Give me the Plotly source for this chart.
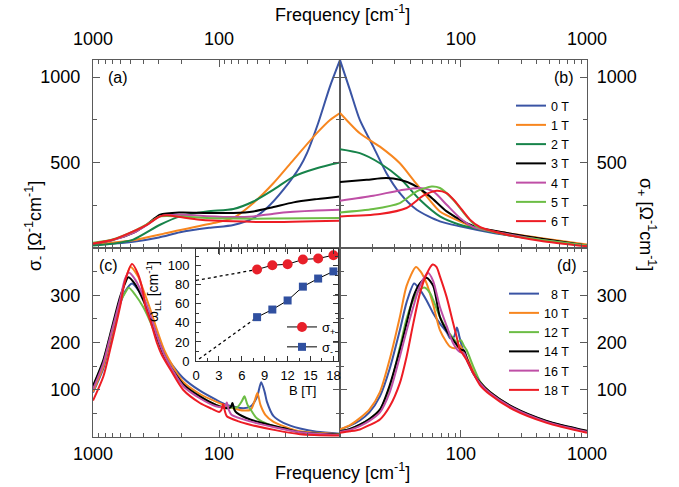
import math
import plotly.graph_objects as go

# ---------------------------------------------------------------- data
# Frequency window shared by every panel (cm^-1)
F_LOW = 11.0
F_HIGH = 1000.0

fields_top = ["0 T", "1 T", "2 T", "3 T", "4 T", "5 T", "6 T"]
colors_top = ["#3a54a4", "#f7861f", "#17834a", "#000000", "#bf4fa6", "#6cbd45", "#ed1c24"]

fields_bottom = ["\u20078 T", "10 T", "12 T", "14 T", "16 T", "18 T"]
colors_bottom = ["#3a54a4", "#f7861f", "#6cbd45", "#000000", "#bf4fa6", "#ed1c24"]

# (a) sigma_minus, low fields: (frequency cm^-1, sigma Ohm^-1 cm^-1)
sm_0T = [(1000, 20), (700, 26), (480, 37), (300, 62), (204, 92), (120, 118), (77, 135),
         (53.5, 175), (41.8, 234), (30.9, 341), (22.8, 477), (20.1, 555), (16.4, 730),
         (13.2, 946), (11, 1100)]
sm_1T = [(1000, 20), (480, 45), (259, 88), (111, 146), (77, 176), (53.5, 263), (37, 380),
         (25.7, 516), (16.8, 672), (13.2, 749), (11, 790)]
sm_2T = [(1000, 14), (700, 25), (480, 49), (294, 136), (204, 185), (125, 214), (77, 228),
         (53.5, 272), (37, 341), (25.7, 418), (16.8, 467), (11, 500)]
sm_3T = [(1000, 26), (700, 47), (480, 88), (375, 136), (294, 195), (204, 208), (125, 205),
         (77, 205), (53.5, 214), (37, 240), (25.7, 267), (16.8, 286), (11, 302)]
sm_4T = [(1000, 26), (700, 46), (480, 88), (375, 134), (294, 185), (204, 195), (125, 186),
         (77, 181), (53.5, 185), (37, 201), (25.7, 212), (16.8, 220), (11, 224)]
sm_5T = [(1000, 30), (700, 50), (480, 97), (375, 138), (294, 185), (204, 185), (125, 176),
         (77, 172), (37, 172), (11, 176)]
sm_6T = [(1000, 26), (700, 48), (480, 97), (375, 136), (294, 185), (259, 191), (204, 181),
         (142, 166), (77, 156), (41.8, 152), (11, 160)]

# (b) sigma_plus, low fields
sp_0T = [(11, 1100), (13.2, 924), (15.8, 749), (20.2, 593), (25.7, 438), (32.8, 321),
         (44.6, 224), (68.2, 156), (98.2, 127), (180.6, 88), (424, 49), (1000, 14)]
sp_1T = [(11, 790), (15.8, 671), (22.8, 593), (32.8, 496), (41.9, 399), (53.5, 302),
         (68.2, 214), (98.2, 156), (125.4, 123), (230.6, 88), (424, 59), (1000, 20)]
sp_2T = [(11, 578), (15.8, 555), (22.8, 496), (32.8, 409), (47.3, 282), (68.2, 185),
         (98.2, 136), (125.4, 117), (230.6, 78), (424, 49), (1000, 14)]
sp_3T = [(11, 386), (17.9, 399), (25.7, 409), (32.8, 399), (41.9, 370), (56.8, 302),
         (77.1, 214), (111, 146), (141.6, 117), (230.6, 88), (424, 55), (1000, 14)]
sp_4T = [(11, 277), (20.2, 306), (32.8, 337), (47.3, 351), (60.3, 331), (77.1, 253),
         (98.2, 176), (125.4, 123), (230.6, 82), (424, 49), (1000, 14)]
sp_5T = [(11, 208), (20.2, 228), (32.8, 263), (44.6, 331), (58.6, 360), (68.2, 351),
         (87, 282), (111, 185), (133, 127), (230.6, 78), (424, 49), (1000, 14)]
sp_6T = [(11, 185), (22.8, 199), (37.1, 234), (50.3, 306), (64.1, 335), (77.1, 321),
         (92.5, 263), (118, 166), (141.6, 123), (230.6, 78), (424, 43), (1000, 10)]

# (c) sigma_minus, high fields
sm_8T = [(1000, 94), (828, 145), (733, 198), (611, 280), (557, 308), (490, 325), (424, 306),
         (400, 296), (353, 258), (312, 218), (268, 174), (193, 125), (142, 98), (106, 79),
         (87, 68), (64, 61), (56, 65), (50, 85), (46.4, 116), (43.5, 95), (41.8, 75), (37, 44),
         (30.9, 30), (22.8, 18), (16.8, 11), (11, 7)]
sm_10T = [(1000, 96), (828, 150), (733, 205), (611, 290), (557, 330), (505, 360), (440, 340),
          (400, 312), (353, 272), (312, 228), (268, 180), (193, 117), (142, 91), (106, 75),
          (77, 61), (64, 56), (56, 58), (52.5, 75), (49.7, 93), (47, 68), (43, 47), (37, 32),
          (30.9, 23), (22.8, 12), (11, 6)]
sm_12T = [(1000, 106), (828, 160), (733, 212), (611, 285), (557, 305), (520, 316), (460, 300),
          (400, 275), (353, 245), (312, 210), (268, 168), (193, 110), (142, 86), (106, 68),
          (87, 63), (72, 63), (66, 76), (63, 86), (59.5, 68), (55, 54), (50.5, 40), (40, 26),
          (22.8, 10), (11, 5)]
sm_14T = [(1000, 108), (828, 163), (733, 216), (611, 296), (557, 325), (525, 338), (460, 322),
          (400, 290), (353, 255), (312, 212), (268, 168), (193, 112), (142, 86), (106, 68),
          (87, 61), (81, 63), (78.4, 72), (75.5, 57), (72.4, 51), (56.7, 37), (30.9, 19),
          (22.8, 10), (11, 5)]
sm_16T = [(1000, 101), (828, 156), (733, 210), (611, 290), (557, 335), (520, 348), (460, 332),
          (400, 298), (353, 260), (312, 215), (268, 170), (193, 108), (142, 82), (106, 65),
          (93, 63), (89, 66), (86.9, 73), (84, 58), (79.8, 47), (56.7, 33), (22.8, 10), (11, 4)]
sm_18T = [(1000, 77), (828, 128), (733, 184), (611, 275), (557, 330), (490, 366), (440, 345),
          (400, 305), (387, 279), (350, 245), (312, 200), (285, 174), (240, 140), (193, 100),
          (142, 72), (115, 60), (100, 53), (96, 57), (93, 70), (90, 55), (86.9, 44), (70, 33),
          (56.7, 26), (35, 14), (22.8, 6), (11, 3)]

# (d) sigma_plus, high fields
sp_8T = [(11, 16), (13.2, 24), (15.8, 35), (18.8, 52), (22.8, 86), (27.3, 145), (32.8, 226),
         (37.1, 285), (42.6, 325), (47.3, 312), (53.5, 289), (60.3, 262), (68.2, 240),
         (77.1, 222), (82, 209), (88, 212), (93, 232), (97, 214), (104, 184), (125.4, 135),
         (141.6, 114), (170, 93), (260, 61), (479, 33), (1000, 12)]
sp_10T = [(11, 16), (13.2, 25), (15.8, 40), (18.8, 58), (22.8, 95), (27.3, 165), (32.8, 254),
          (37.1, 320), (44, 360), (48, 350), (53.5, 325), (60.3, 280), (68.2, 226), (77.1, 200),
          (82, 191), (90, 188), (98, 194), (104, 182), (111, 170), (125.4, 140), (141.6, 116),
          (170, 95), (260, 62), (479, 33), (1000, 12)]
sp_12T = [(11, 12), (13.2, 17), (15.8, 26), (18.8, 38), (22.8, 58), (27.3, 105), (32.8, 190),
          (37.1, 250), (41.9, 290), (47.3, 312), (51.9, 316), (56.8, 305), (60.3, 290),
          (68.2, 254), (77.1, 228), (87, 209), (93, 200), (100, 205), (106, 192), (111, 184),
          (125.4, 149), (141.6, 118), (170, 95), (260, 62), (479, 33), (1000, 12)]
sp_14T = [(11, 12), (13.2, 17), (15.8, 26), (18.8, 38), (22.8, 58), (27.3, 110), (32.8, 184),
          (37.1, 240), (41.9, 296), (47.3, 325), (53.5, 337), (60.3, 320), (68.2, 254),
          (77.1, 225), (87, 205), (100, 185), (106, 183), (112, 165), (125.4, 135),
          (141.6, 116), (170, 95), (260, 63), (479, 34), (1000, 13)]
sp_16T = [(11, 11), (13.2, 15), (15.8, 23), (18.8, 34), (22.8, 52), (27.3, 95), (32.8, 170),
          (37.1, 225), (41.9, 275), (47.3, 320), (55, 347), (60.3, 330), (68.2, 275),
          (77.1, 235), (87, 198), (98, 180), (106, 178), (111, 165), (125.4, 135),
          (141.6, 114), (170, 93), (260, 61), (479, 32), (1000, 11)]
sp_18T = [(11, 9), (13.2, 12), (15.8, 16), (18.8, 25), (22.8, 37), (27.3, 65), (32.8, 114),
          (37.1, 170), (41.9, 240), (47.3, 304), (53.5, 345), (59.7, 365), (64, 360),
          (68.2, 340), (77.1, 296), (87, 240), (92.5, 212), (98.2, 184), (104, 175), (111, 163),
          (125.4, 135), (141.6, 110), (170, 90), (260, 58), (479, 30), (1000, 9)]

# inset: Landau-level transition energies versus field
B_field = [8, 10, 12, 14, 16, 18]
omega_plus = [96, 100.5, 101.5, 106.5, 107.5, 111]
omega_minus = [46, 54, 63.5, 78, 86.5, 94]
fit_B_plus = [0, 8]
fit_plus = [84.5, 96]
fit_B_minus = [0.4, 8]
fit_minus = [2, 46]

# ---------------------------------------------------------------- layout helpers
W, H = 679, 487
FONT = "Liberation Sans, Arial, Helvetica, sans-serif"
AX = "#5a5a5a"


def px(x):
    return x / W


def py(y):
    return 1 - y / H


X_LEFT = [px(93), px(340)]
X_RIGHT = [px(340), px(587)]
Y_TOP = [py(248), py(60)]
Y_BOT = [py(437), py(248)]

minor_freq = [20, 30, 40, 50, 60, 70, 80, 90, 200, 300, 400, 500, 600, 700, 800, 900]


def freq_axis(domain, reverse, side, anchor):
    lo, hi = math.log10(F_LOW), math.log10(F_HIGH)
    return dict(domain=domain, type="log", range=[hi, lo] if reverse else [lo, hi],
                side=side, anchor=anchor, automargin=False, tickmode="array",
                tickvals=[100, 1000], ticktext=["100", "1000"], ticks="inside", ticklen=7,
                tickwidth=1.2, tickcolor=AX,
                minor=dict(tickmode="array", tickvals=minor_freq, ticks="inside",
                           ticklen=4, tickwidth=1, tickcolor=AX),
                showline=True, linecolor=AX, linewidth=1.3, mirror="ticks",
                showgrid=False, zeroline=False, tickfont=dict(size=18, color="#000"),
                ticklabelstandoff=7 if side == "top" else 0)


def sigma_axis(domain, rng, major, minor, side, anchor):
    return dict(domain=domain, range=rng, side=side, anchor=anchor, automargin=False,
                tickmode="array", tickvals=major, ticktext=[str(v) for v in major],
                ticks="inside", ticklen=7, tickwidth=1.2, tickcolor=AX,
                minor=dict(tickmode="array", tickvals=minor, ticks="inside", ticklen=4,
                           tickwidth=1, tickcolor=AX),
                showline=True, linecolor=AX, linewidth=1.3, mirror="ticks",
                showgrid=False, zeroline=False, tickfont=dict(size=18, color="#000"),
                ticklabelstandoff=8 if side == "left" else 5)


fig = go.Figure()


def add_curve(points, color, name, xa, ya, legend=None):
    fig.add_trace(go.Scatter(
        x=[p[0] for p in points], y=[p[1] for p in points], mode="lines",
        line=dict(color=color, width=2, shape="spline", smoothing=0.7),
        name=name, xaxis=xa, yaxis=ya, hoverinfo="skip",
        showlegend=legend is not None, legend=legend or "legend"))


for pts, col, lab in zip([sm_0T, sm_1T, sm_2T, sm_3T, sm_4T, sm_5T, sm_6T], colors_top, fields_top):
    add_curve(pts, col, lab, "x", "y")
for pts, col, lab in zip([sp_0T, sp_1T, sp_2T, sp_3T, sp_4T, sp_5T, sp_6T], colors_top, fields_top):
    add_curve(pts, col, lab, "x2", "y2", legend="legend")
for pts, col, lab in zip([sm_8T, sm_10T, sm_12T, sm_14T, sm_16T, sm_18T], colors_bottom, fields_bottom):
    add_curve(pts, col, lab, "x3", "y3")
for pts, col, lab in zip([sp_8T, sp_10T, sp_12T, sp_14T, sp_16T, sp_18T], colors_bottom, fields_bottom):
    add_curve(pts, col, lab, "x4", "y4", legend="legend2")

# inset: dotted extrapolations, then measured points
for bx, wy in ((fit_B_plus, fit_plus), (fit_B_minus, fit_minus)):
    fig.add_trace(go.Scatter(x=bx, y=wy, mode="lines", xaxis="x5", yaxis="y5",
                             line=dict(color="#000", width=1.3, dash="dot"),
                             showlegend=False, hoverinfo="skip"))
fig.add_trace(go.Scatter(x=B_field, y=omega_plus, mode="lines+markers", xaxis="x5", yaxis="y5",
                         name="\u03c3<sub>+</sub>", legend="legend3",
                         line=dict(color="#000", width=1),
                         marker=dict(symbol="circle", size=10, color="#e8202a")))
fig.add_trace(go.Scatter(x=B_field, y=omega_minus, mode="lines+markers", xaxis="x5", yaxis="y5",
                         name="\u03c3<sub>-</sub>", legend="legend3",
                         line=dict(color="#000", width=1),
                         marker=dict(symbol="square", size=8, color="#3050a0")))

inset_axis = dict(showline=True, linecolor="#333", linewidth=1, mirror="ticks",
                  ticks="inside", ticklen=5, tickcolor="#333", showgrid=False,
                  zeroline=False, automargin=False, tickfont=dict(size=13, color="#000"))

fig.update_layout(
    width=W, height=H, autosize=False,
    margin=dict(l=0, r=0, t=0, b=0),
    paper_bgcolor="white", plot_bgcolor="rgba(0,0,0,0)",
    font=dict(family=FONT, color="#000"),
    xaxis=freq_axis(X_LEFT, True, "top", "y"),
    yaxis=sigma_axis(Y_TOP, [0, 1100], [500, 1000], [250, 750], "left", "x"),
    xaxis2=freq_axis(X_RIGHT, False, "top", "y2"),
    yaxis2=sigma_axis(Y_TOP, [0, 1100], [500, 1000], [250, 750], "right", "x2"),
    xaxis3=freq_axis(X_LEFT, True, "bottom", "y3"),
    yaxis3=sigma_axis(Y_BOT, [0, 400], [100, 200, 300], [50, 150, 250, 350], "left", "x3"),
    xaxis4=freq_axis(X_RIGHT, False, "bottom", "y4"),
    yaxis4=sigma_axis(Y_BOT, [0, 400], [100, 200, 300], [50, 150, 250, 350], "right", "x4"),
    xaxis5=dict(domain=[px(196), px(338)], anchor="y5", range=[0, 18.6],
                tickmode="linear", tick0=0, dtick=3,
                minor=dict(dtick=1.5, ticks="inside", ticklen=3, tickcolor="#333"),
                ticklabelstandoff=2, **inset_axis),
    yaxis5=dict(domain=[py(361), py(249)], anchor="x5", range=[0, 117.5],
                tickmode="linear", tick0=0, dtick=20,
                minor=dict(dtick=10, ticks="inside", ticklen=3, tickcolor="#333"),
                ticklabelstandoff=3, **inset_axis),
    legend=dict(x=px(511), y=py(91), xanchor="left", yanchor="top",
                bgcolor="rgba(0,0,0,0)", font=dict(size=12.5), tracegroupgap=0),
    legend2=dict(x=px(504), y=py(279), xanchor="left", yanchor="top",
                 bgcolor="rgba(0,0,0,0)", font=dict(size=12.5), tracegroupgap=0),
    legend3=dict(x=px(282), y=py(312), xanchor="left", yanchor="top",
                 bgcolor="rgba(0,0,0,0)", font=dict(size=13), tracegroupgap=0),
)

notes = [
    ("(a)", 106, 77, "left", 16, 0),
    ("(b)", 576, 77, "right", 16, 0),
    ("(c)", 97, 265, "left", 16, 0),
    ("(d)", 579, 265, "right", 16, 0),
    ("Frequency [cm<sup>-1</sup>]", 342, 14, "center", 18, 0),
    ("Frequency [cm<sup>-1</sup>]", 342, 471, "center", 18, 0),
    ("\u03c3<sub>-</sub> [\u03a9<sup>-1</sup>cm<sup>-1</sup>]", 34, 226, "center", 18, -90),
    ("\u03c3<sub>+</sub> [\u03a9<sup>-1</sup>cm<sup>-1</sup>]", 646, 224, "center", 18, 90),
    ("\u03c9<sub>LL</sub> [cm<sup>-1</sup>]", 153, 292, "center", 14, -90),
    ("B [T]", 302, 390, "center", 13, 0),
]
for text, x, y, anchor, size, angle in notes:
    fig.add_annotation(text=text, x=px(x), y=py(y), xref="paper", yref="paper",
                       xanchor=anchor, yanchor="middle", showarrow=False,
                       textangle=angle, font=dict(size=size, family=FONT, color="#000"))

fig.write_html("out.html")
